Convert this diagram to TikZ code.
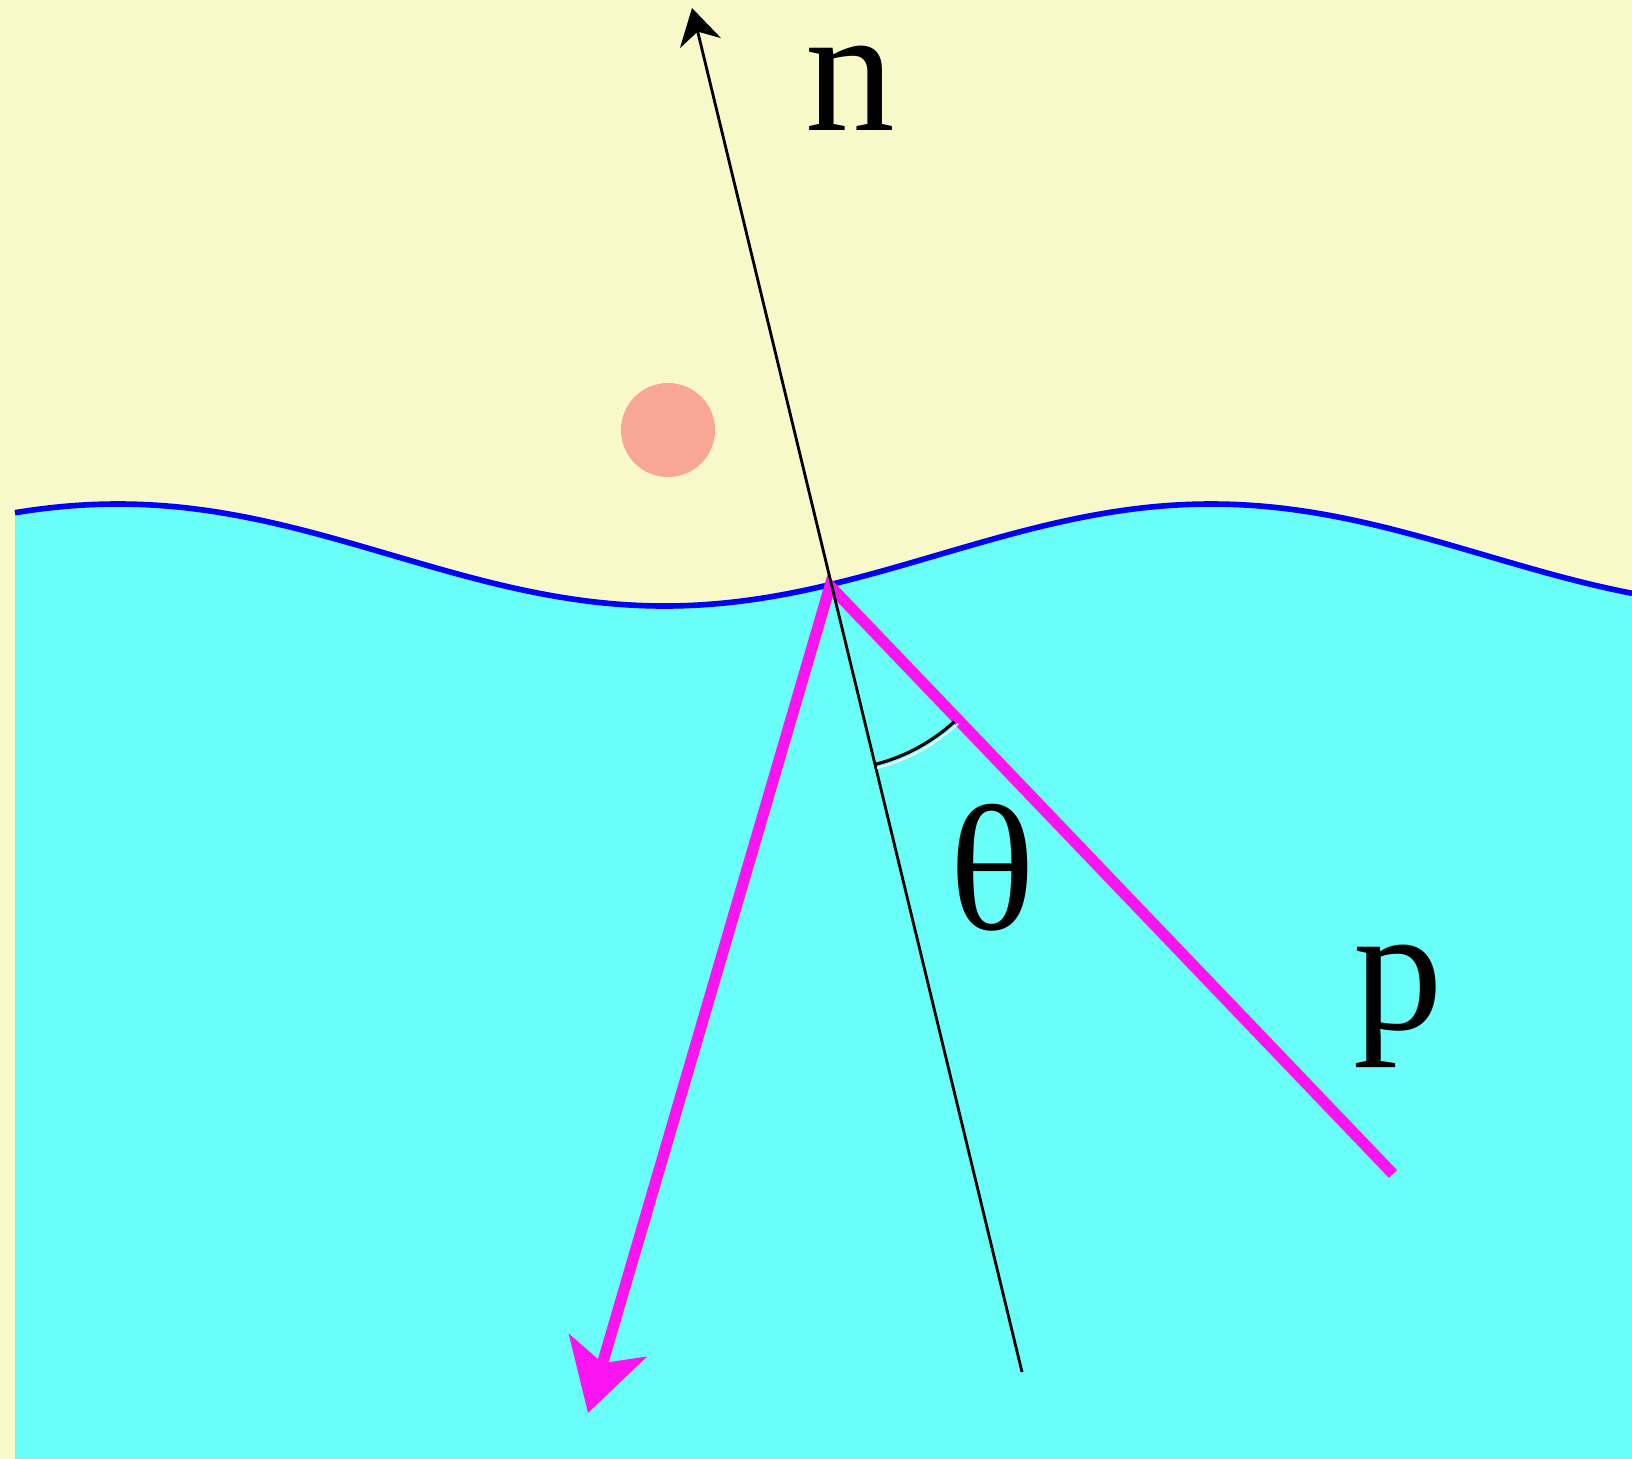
\documentclass[tikz,border=0pt]{standalone}
\usepackage{fontspec}
\setmainfont{Liberation Serif}
\usetikzlibrary{arrows.meta,calc}

\definecolor{sfondo}{RGB}{248,248,200}
\definecolor{acqua}{RGB}{106,254,248}
\definecolor{onda}{RGB}{0,0,255}
\definecolor{raggio}{RGB}{250,20,240}
\definecolor{goccia}{RGB}{248,166,150}

\tikzset{
  etichetta/.style={inner sep=0pt, font=\fontsize{51}{56}\selectfont},
  normale/.style={line width=0.8pt, -{Stealth[length=3.6mm, width=4.2mm]}},
  traccia/.style={draw=raggio, line width=3.2pt, -{Stealth[length=7mm, width=8mm, inset=1.8mm]}},
}

\begin{document}
\begin{tikzpicture}[x=0.1mm, y=-0.1mm]
            % Sfondo
            \fill[sfondo] (0,0) rectangle (1632,1459);
            \useasboundingbox (0,0) rectangle (1632,1459);
            
            % Acqua sotto la superficie
            \fill[acqua] (15,1459) -- plot[domain=15:1632, samples=120, smooth] (\x, {555-51*cos(360*((\x-118)/1093))}) -- (1632,1459) -- cycle;
            \draw[onda, line width=1.6pt] plot[domain=15:1632, samples=120, smooth] (\x, {555-51*cos(360*((\x-118)/1093))});
            
            % Goccia
            \node[circle, fill=goccia, minimum size=9.4mm, inner sep=0pt] (goccia) at (668,430) {};
            
            % Punti di riferimento
            \coordinate (O) at (830,586);
            \coordinate (ntop) at (692,8);
            \coordinate (nbot) at (1022,1372);
            \coordinate (pfine) at (1393,1174);
            \coordinate (rpunta) at (588,1413);
            
            % Raggio p e riflesso
            \draw[traccia] (pfine) -- (O) -- (rpunta);
            
            % Normale n
            \draw[normale] (nbot) -- (ntop);
            
            % Angolo theta
            \draw[white, line width=0.5pt] ($(O)+(47:188)$) arc[start angle=47, end angle=75.5, radius=188];
            \draw[black, line width=0.9pt] ($(O)+(47.5:184)$) arc[start angle=47.5, end angle=75.5, radius=184];
            
            % Etichette
            \node[etichetta] (n) at (850,88) {n};
            \node[etichetta] (theta) at (992,868) {θ};
            \node[etichetta] (p) at (1398,1006) {p};
        \end{tikzpicture}
\end{document}
